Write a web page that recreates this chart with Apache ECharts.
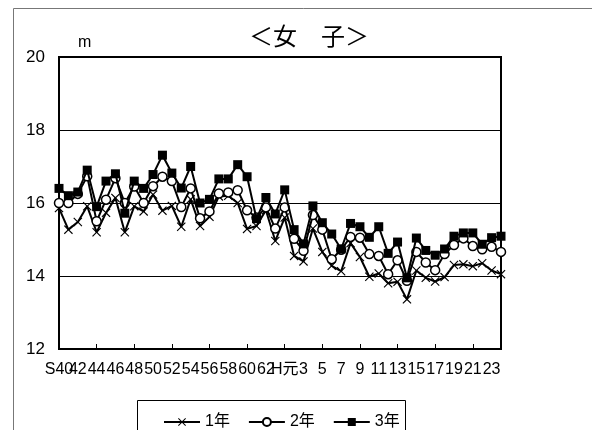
<!DOCTYPE html>
<html>
<head>
<meta charset="utf-8">
<script src="https://cdn.jsdelivr.net/npm/echarts@6/dist/echarts.min.js"></script>
<style>
html,body{margin:0;padding:0;background:#fff;}
#c{width:592px;height:430px;}
</style>
</head>
<body>
<div id="c"></div>
<script>
// Categories: S40..S63, H元..H24
var categories = ['S40','41','42','43','44','45','46','47','48','49','50','51','52','53','54','55','56','57','58','59','60','61','62','63',
  'H元','2','3','4','5','6','7','8','9','10','11','12','13','14','15','16','17','18','19','20','21','22','23','24'];

var grade1 = [15.86,15.27,15.48,15.91,15.20,15.73,16.14,15.20,15.91,15.77,16.23,15.79,15.92,15.35,16.10,15.37,15.62,16.18,16.20,16.00,15.29,15.37,15.80,14.96,
  15.60,14.55,14.40,15.30,14.66,14.28,14.13,14.90,14.52,13.98,14.07,13.80,13.84,13.36,14.15,13.95,13.85,13.97,14.30,14.32,14.27,14.35,14.15,14.05];

var grade2 = [16.00,16.00,16.25,16.73,15.50,16.09,16.68,16.00,16.45,16.00,16.46,16.72,16.60,15.89,16.40,15.58,15.77,16.26,16.29,16.35,15.80,15.60,15.88,15.30,
  15.88,15.02,14.69,15.67,15.27,14.46,14.72,15.07,15.05,14.60,14.55,14.05,14.43,13.87,14.66,14.37,14.16,14.60,14.85,15.03,14.82,14.73,14.80,14.66];

var grade3 = [16.40,16.20,16.30,16.90,15.90,16.60,16.80,15.72,16.60,16.40,16.78,17.31,16.82,16.41,17.00,16.00,16.10,16.66,16.66,17.05,16.72,15.57,16.15,15.70,
  16.36,15.27,14.88,15.92,15.46,15.15,14.74,15.44,15.35,15.06,15.35,14.62,14.93,13.95,15.04,14.70,14.57,14.74,15.09,15.18,15.18,14.87,15.05,15.09];

var seriesNames = ['1年','2年','3年'];
var yTicks = {min:12, max:20, interval:2};

var FONT = "'Liberation Sans','Noto Sans CJK JP',sans-serif";
var crossPath = 'path://M0,0.9 L0.9,0 L5,4.1 L9.1,0 L10,0.9 L5.9,5 L10,9.1 L9.1,10 L5,5.9 L0.9,10 L0,9.1 L4.1,5 Z';

var chart = echarts.init(document.getElementById('c'), null, {renderer:'canvas'});
chart.setOption({
  animation:false,
  backgroundColor:'#fff',
  title:{
    text:'＜女　子＞',
    left:304, top:19, textAlign:'center',
    textStyle:{fontFamily:"'Noto Sans CJK JP',sans-serif", fontSize:24, fontWeight:'normal', color:'#000'}
  },
  graphic:[
    {type:'rect', z:-1, shape:{x:13.5, y:8.5, width:620, height:500}, style:{fill:'none', stroke:'#777', lineWidth:1}},
    {type:'rect', z:1, shape:{x:137.5, y:400.5, width:268, height:60}, style:{fill:'#fff', stroke:'#000', lineWidth:1}}
  ],
  legend:{
    data:seriesNames,
    left:158, top:409,
    itemWidth:36, itemHeight:10, itemGap:18,
    textStyle:{fontFamily:FONT, fontSize:16, color:'#000'},
    z:10
  },
  grid:{left:59, top:57, width:442, height:292, show:true, borderColor:'#000', borderWidth:2, backgroundColor:'transparent'},
  xAxis:{
    type:'category', data:categories, boundaryGap:false,
    axisLine:{lineStyle:{color:'#000', width:2}},
    axisTick:{show:true, inside:true, interval:3, length:5, lineStyle:{color:'#000', width:1}},
    axisLabel:{interval:0, hideOverlap:false, fontFamily:FONT, fontSize:16, color:'#000', margin:13,
      formatter:function(v, i){ return i % 2 === 0 ? v : ''; }},
    splitLine:{show:false}
  },
  yAxis:{
    type:'value', min:yTicks.min, max:yTicks.max, interval:yTicks.interval,
    name:'m', nameLocation:'end', nameGap:6,
    nameTextStyle:{fontFamily:FONT, fontSize:16, color:'#000', align:'left', padding:[0,0,0,19]},
    axisLine:{show:true, lineStyle:{color:'#000', width:2}},
    axisTick:{show:false},
    axisLabel:{fontFamily:FONT, fontSize:17, color:'#000', margin:14},
    splitLine:{show:true, lineStyle:{color:'#000', width:1}}
  },
  series:[
    {name:seriesNames[0], type:'line', data:grade1, symbol:crossPath, symbolSize:9, showAllSymbol:true,
      lineStyle:{color:'#000', width:2}, itemStyle:{color:'#000'}, z:3},
    {name:seriesNames[1], type:'line', data:grade2, symbol:'circle', symbolSize:9, showAllSymbol:true,
      lineStyle:{color:'#000', width:2}, itemStyle:{color:'#fff', borderColor:'#000', borderWidth:1.5}, z:4},
    {name:seriesNames[2], type:'line', data:grade3, symbol:'rect', symbolSize:9, showAllSymbol:true,
      lineStyle:{color:'#000', width:2}, itemStyle:{color:'#000'}, z:5}
  ]
});
</script>
</body>
</html>
